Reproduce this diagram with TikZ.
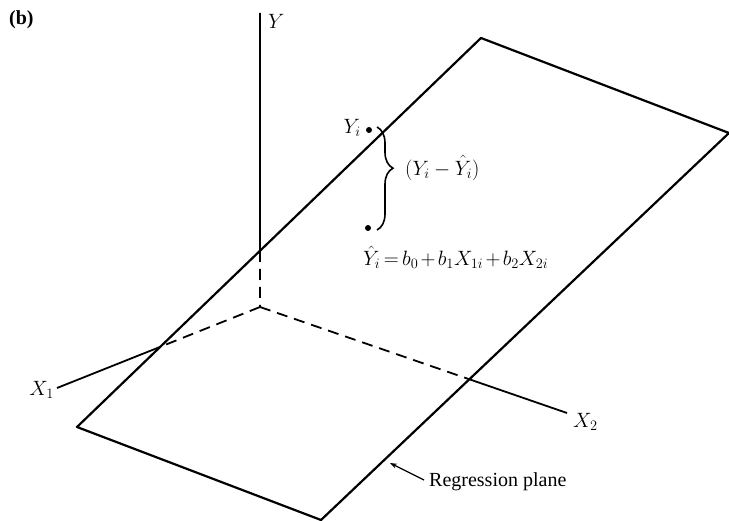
\documentclass[tikz,border=0pt]{standalone}
\usepackage{fontspec}
\setmainfont{Liberation Serif}
\usetikzlibrary{decorations.pathreplacing,arrows.meta}
\begin{document}
\begin{tikzpicture}[x=1pt,y=-1pt,
  edge/.style={line width=2.2pt, line join=round},
  axis/.style={line width=1.8pt},
  dashaxis/.style={line width=1.8pt, dash pattern=on 11pt off 7pt},
  lab/.style={inner sep=1pt, font=\fontsize{20}{23}\selectfont},
  txt/.style={inner sep=1pt, font=\fontsize{20}{23}\selectfont},
  pt/.style={circle, fill=black, inner sep=0pt, minimum size=6pt}]
\useasboundingbox (0,0) rectangle (729,521);
% plane corners
\coordinate (T) at (481,38);
\coordinate (R) at (729,133);
\coordinate (B) at (321,520);
\coordinate (L) at (77,427);
\draw[edge] (L) -- (T) -- (R) -- (B) -- cycle;
% axes
\coordinate (O) at (260,307);
\coordinate (Ytop) at (260,13);
\coordinate (X1e) at (57,388);
\coordinate (X2e) at (567,413);
\coordinate (Yc) at (intersection of L--T and O--Ytop);
\coordinate (X1c) at (intersection of L--T and O--X1e);
\coordinate (X2c) at (intersection of R--B and O--X2e);
\draw[axis] (Ytop) -- (Yc);
\draw[dashaxis] (Yc) -- (O);
\draw[dashaxis] (O) -- (X1c);
\draw[axis] (X1c) -- (X1e);
\draw[dashaxis] (O) -- (X2c);
\draw[axis] (X2c) -- (X2e);
% axis labels
\node[lab, anchor=west] (ylab) at (267,21) {$Y$};
\node[lab, anchor=east] (x1lab) at (55,390) {$X_1$};
\node[lab, anchor=west] (x2lab) at (572,422) {$X_2$};
\node[inner sep=1pt, font=\fontsize{20}{23}\selectfont\bfseries, anchor=west] (b) at (8,20) {(b)};
% points and brace
\node[pt] (yi) at (369,130) {};
\node[pt] (yhat) at (368,228) {};
\node[lab, anchor=east] (yilab) at (362,128) {$Y_i$};
\draw[line width=1.6pt, decorate, decoration={brace, amplitude=16pt, aspect=0.4}] (377,127) -- (377,230);
\node[lab, font=\fontsize{22}{25}\selectfont, anchor=west] (diff) at (404,168) {$(Y_i - \hat{Y}_i)$};
\node[lab, font=\fontsize{21}{24}\selectfont, anchor=west] (eq) at (362,257)
  {$\medmuskip=2mu \thickmuskip=3mu \hat{Y}_i = b_0 + b_1X_{1i} + b_2X_{2i}$};
% regression plane label
\coordinate (Rp) at (390,463);
\node[txt, anchor=west] (rp) at (428,482) {Regression plane};
\draw[line width=1.2pt, -{Stealth[length=7pt,width=5pt]}] (rp.west) ++(-4,-2) -- (Rp);
\end{tikzpicture}
\end{document}
